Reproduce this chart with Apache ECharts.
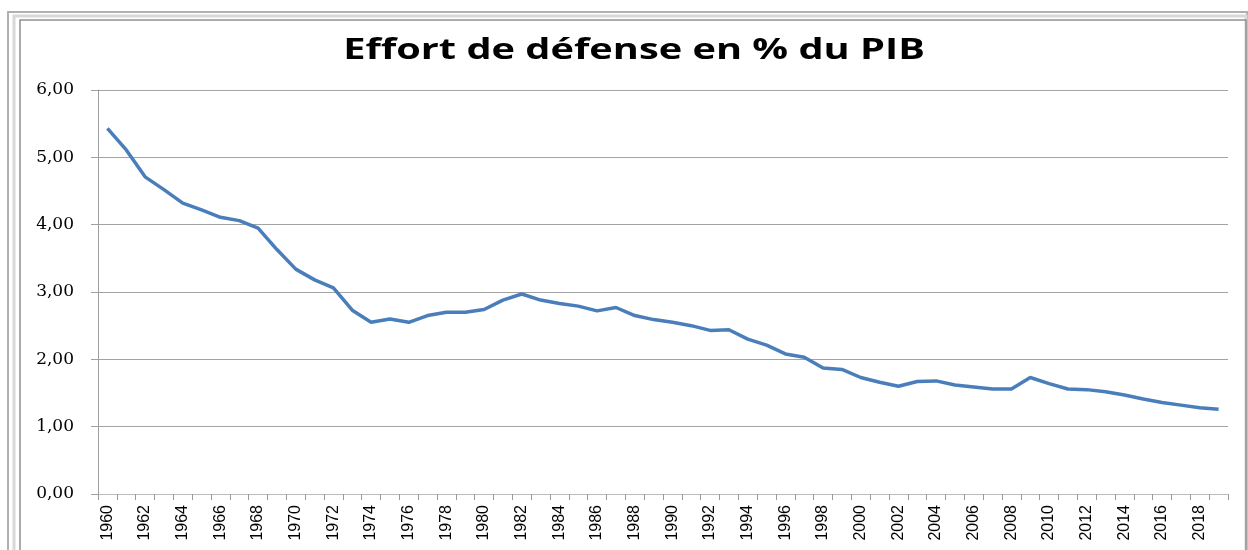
<!DOCTYPE html>
<html>
<head>
<meta charset="utf-8">
<script src="https://cdn.jsdelivr.net/npm/echarts@6/dist/echarts.min.js"></script>
<style>
html,body{margin:0;padding:0;background:#fff;}
#chart{width:1248px;height:550px;}
</style>
</head>
<body>
<div id="chart"></div>
<script>
const titleText = "Effort de défense en % du PIB";
const years = [];
for (let y = 1960; y <= 2019; y++) years.push(String(y));
const effort = [
  5.43, 5.11, 4.71, 4.52, 4.32, 4.22, 4.11, 4.06, 3.95, 3.63,
  3.34, 3.18, 3.06, 2.73, 2.55, 2.60, 2.55, 2.65, 2.70, 2.70,
  2.74, 2.88, 2.97, 2.88, 2.83, 2.79, 2.72, 2.77, 2.65, 2.59,
  2.55, 2.50, 2.43, 2.44, 2.30, 2.21, 2.08, 2.03, 1.87, 1.85,
  1.73, 1.66, 1.60, 1.67, 1.68, 1.62, 1.59, 1.56, 1.56, 1.73,
  1.64, 1.56, 1.55, 1.52, 1.47, 1.41, 1.36, 1.32, 1.28, 1.26
];
const yTicks = [0, 1, 2, 3, 4, 5, 6];

const chart = echarts.init(document.getElementById('chart'), null, {renderer: 'canvas'});
chart.setOption({
  animation: false,
  backgroundColor: '#ffffff',
  graphic: [
    {type: 'rect', shape: {x: 8, y: 12, width: 1239, height: 560}, style: {fill: 'none', stroke: '#b0b0b0', lineWidth: 2}},
    {type: 'rect', shape: {x: 14, y: 16, width: 1232, height: 560}, style: {fill: 'none', stroke: '#d8d8d8', lineWidth: 3}},
    {type: 'rect', shape: {x: 20, y: 20, width: 1226, height: 560}, style: {fill: 'none', stroke: '#909090', lineWidth: 1.5}},
    {type: 'text', x: 634, y: 36, scaleX: 1.37, style: {text: titleText, fill: '#000', font: 'bold 29px "Open Sans", sans-serif', textAlign: 'center', textVerticalAlign: 'top'}}
  ],
  grid: {left: 98, right: 20, top: 90, bottom: 56, containLabel: false},
  xAxis: {
    type: 'category',
    data: years,
    boundaryGap: true,
    axisLine: {show: true, lineStyle: {color: '#bdbdbd', width: 1}},
    axisTick: {show: true, interval: 0, length: 6, lineStyle: {color: '#9a9a9a'}},
    axisLabel: {interval: 1, rotate: 90, color: '#000', fontFamily: '"Liberation Sans", Arial, sans-serif', fontSize: 16, margin: 11},
    splitLine: {show: false}
  },
  yAxis: {
    type: 'value',
    min: yTicks[0],
    max: yTicks[yTicks.length - 1],
    interval: 1,
    axisLine: {show: true, lineStyle: {color: '#a0a0a0', width: 1}},
    axisTick: {show: true, length: 7, lineStyle: {color: '#a0a0a0'}},
    axisLabel: {
      color: '#000', fontFamily: '"DejaVu Serif", serif', fontSize: 17, margin: 24,
      formatter: v => v.toFixed(2).replace('.', ',')
    },
    splitLine: {show: true, lineStyle: {color: '#a3a3a3', width: 1.2}}
  },
  series: [{
    type: 'line',
    data: effort,
    showSymbol: false,
    symbol: 'none',
    lineStyle: {color: '#4a7ebb', width: 3.5},
    itemStyle: {color: '#4a7ebb'}
  }]
});
</script>
</body>
</html>
